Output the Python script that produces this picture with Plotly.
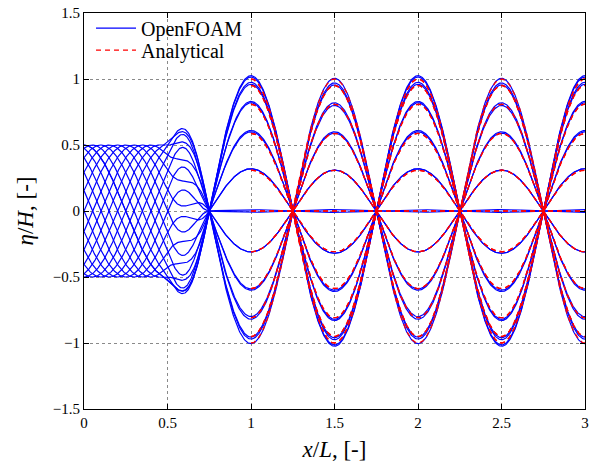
import numpy as np
import plotly.graph_objects as go

# ---- data ----
# snapshot phases (degrees) over one wave period
phase_deg = [0, 18, 36, 54, 72, 90, 108, 126, 144, 162, 180,
             198, 216, 234, 252, 270, 288, 306, 324, 342, 360]
# OpenFOAM standing-wave elevation read at the antinode x/L = 1
of_peak = [1.025, 0.975, 0.83, 0.61, 0.32, 0.01, -0.31, -0.59, -0.80, -0.955, -1.005,
           -0.97, -0.82, -0.60, -0.31, -0.01, 0.32, 0.60, 0.82, 0.96, 1.015]
incident_amp = 0.5          # incident wave amplitude, eta/H
blend_start = 0.46          # incident wave alone up to here, x/L
blend_end = 0.75            # standing wave alone from here, x/L
analytical_start = 1.0      # analytical curves drawn from here, x/L
x_ticks = [0, 0.5, 1, 1.5, 2, 2.5, 3]
y_ticks = [-1.5, -1, -0.5, 0, 0.5, 1, 1.5]
y_ticklabels = ["\u22121.5", "\u22121", "\u22120.5", "0", "0.5", "1", "1.5"]

x = np.linspace(0, 3, 901)
k = 2 * np.pi
s = np.clip((x - blend_start) / (blend_end - blend_start), 0, 1)
w = 0.5 * (1 + np.cos(np.pi * s))

fig = go.Figure()
for i, (ph, A) in enumerate(zip(phase_deg, of_peak)):
    p = np.deg2rad(ph)
    eta = w * incident_amp * np.cos(k * x - p) + (1 - w) * A * np.cos(k * x)
    fig.add_trace(go.Scatter(x=x, y=eta, mode="lines", name="OpenFOAM",
                             line=dict(color="#0000ff", width=1.2),
                             showlegend=(i == 0), legend="legend"))
xa = x[x >= analytical_start]
for i, ph in enumerate(phase_deg):
    p = np.deg2rad(ph)
    fig.add_trace(go.Scatter(x=xa, y=np.cos(p) * np.cos(k * xa), mode="lines",
                             name="Analytical",
                             line=dict(color="#ff0000", width=1.3, dash="5px,4px"),
                             showlegend=(i == 0), legend="legend2"))

font = "Liberation Serif, Times New Roman, serif"
axis_common = dict(showline=True, linecolor="black", linewidth=1, mirror="ticks",
                   ticks="inside", ticklen=5, tickcolor="black", automargin=False,
                   showgrid=True, gridcolor="#8a8a8a", griddash="dot", gridwidth=1,
                   zeroline=False, ticklabeloverflow="allow",
                   tickfont=dict(family=font, size=15, color="black"))
fig.update_xaxes(range=[0, 3], tickvals=x_ticks, ticktext=[str(t) for t in x_ticks],
                 title=dict(text="<i>x</i>/<i>L</i>, [-]", font=dict(family=font, size=23, color="black")),
                 **axis_common)
fig.update_yaxes(range=[-1.5, 1.5], tickvals=y_ticks, ticktext=y_ticklabels,
                 title=dict(text="<i>\u03b7</i>/<i>H</i>, [-]", font=dict(family=font, size=23, color="black"),
                            standoff=12),
                 **axis_common)
leg_common = dict(x=0.014, xanchor="left", yanchor="middle",
                  bgcolor="rgba(0,0,0,0)", borderwidth=0,
                  font=dict(family=font, size=20, color="black"), itemwidth=40)
fig.update_layout(width=589, height=462,
                  margin=dict(l=84, r=4, t=13, b=53),
                  paper_bgcolor="white", plot_bgcolor="white",
                  showlegend=True,
                  legend=dict(y=0.962, **leg_common),
                  legend2=dict(y=0.906, **leg_common))
fig.write_html("out.html", config={"displayModeBar": False},
               post_script="document.body.style.margin='0px';document.body.style.overflow='hidden';")
